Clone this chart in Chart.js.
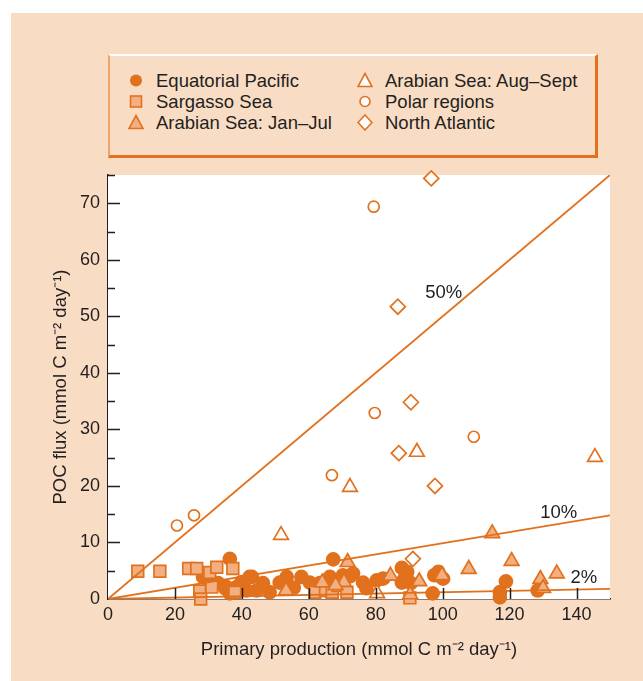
<!DOCTYPE html>
<html>
<head>
<meta charset="utf-8">
<script src="https://cdn.jsdelivr.net/npm/chart.js@4.4.1/dist/chart.umd.min.js"></script>
<style>
  html, body { margin: 0; padding: 0; background: #fff; }
  body { width: 643px; height: 681px; position: relative; overflow: hidden; font-family: 'Liberation Sans', Arial, sans-serif; }
  #bg { position: absolute; left: 11px; top: 13px; right: 0; bottom: 0; background: #F9DCC4; }
  #chart { position: absolute; left: 0; top: 0; }
  #legend {
    position: absolute; left: 108px; top: 54px; width: 490px; height: 104px; box-sizing: border-box;
    border-top: 2px solid #fff; border-left: 2px solid #F0A46C;
    border-right: 3px solid #E2711D; border-bottom: 3px solid #E2711D;
  }
  .item { position: absolute; height: 21px; line-height: 21px; font-size: 18.5px; color: #231F20; white-space: nowrap; }
  .item svg { position: absolute; left: 0; top: 2px; }
  .item span { position: absolute; left: 28px; top: 0; }
</style>
</head>
<body>
<div id="bg"></div>
<div id="legend"></div>
<canvas id="chart" width="643" height="681"></canvas>
<script>
const ORANGE = '#E2711D';
const LIGHT = '#F2B082';
const TEXT = '#231F20';

// series, [primary production, POC flux]
const eqPacific = [
  [36.4, 7.1], [28.4, 3.9], [67.3, 7.0], [87.8, 5.5], [89.4, 4.8], [98.7, 4.8], [100.1, 3.6],
  [97.5, 4.2], [97.0, 1.0], [118.9, 3.1], [117.1, 1.2], [117.1, 0.3], [128.4, 1.5],
  [42.3, 3.9], [32.9, 2.8], [39.9, 3.0], [46.3, 2.8], [48.3, 1.2], [51.3, 2.9], [53.4, 3.9],
  [57.8, 3.9], [60.3, 2.9], [63.3, 2.8], [66.3, 3.9], [70.2, 4.2], [73.2, 4.5], [76.2, 2.9],
  [77.2, 1.9], [80.3, 3.3], [82.2, 3.6], [87.8, 2.9], [90.5, 2.8], [35.0, 1.9], [38.4, 2.1],
  [41.4, 1.5], [44.4, 1.5], [36.4, 1.0], [62.5, 1.8], [66.3, 1.2], [43.0, 3.9], [35.5, 2.1],
  [55.5, 2.0], [72.3, 4.0], [65.3, 3.3], [88.5, 3.5], [30.5, 2.5], [40.5, 2.5]
];
const sargasso = [
  [8.9, 4.9], [15.5, 4.9], [24.1, 5.4], [26.5, 5.4], [30.4, 4.7], [32.5, 5.6], [37.3, 5.4],
  [27.4, 1.4], [27.7, 0.0], [31.0, 2.1], [37.9, 1.2], [61.8, 1.2], [65.0, 1.5], [67.0, 1.2],
  [68.7, 2.4], [71.4, 1.2], [90.2, 0.2]
];
const arabianJanJul = [
  [114.8, 11.6], [120.6, 6.7], [107.8, 5.3], [71.6, 6.5], [129.2, 3.5], [134.1, 4.5],
  [130.0, 1.9], [53.2, 1.5], [84.4, 4.1], [93.0, 3.1], [90.3, 0.8], [70.5, 3.0],
  [99.8, 4.2], [64.0, 2.9], [68.0, 2.4]
];
const arabianAugSep = [[92.3, 26.0], [72.3, 19.8], [145.5, 25.1], [51.7, 11.3], [80.4, 1.0]];
const polar = [[79.4, 69.4], [79.7, 32.9], [109.3, 28.7], [66.9, 21.9], [20.6, 13.0], [25.7, 14.8]];
const northAtlantic = [[96.6, 74.4], [86.6, 51.7], [90.5, 34.8], [86.9, 25.8], [97.7, 20.0], [91.1, 7.1]];

// export-efficiency reference lines (end points as drawn)
const line50 = [[0, 0], [150, 75]];
const line10 = [[0, 0], [150, 14.8]];
const line2 = [[0, 0], [150, 1.8]];
const lineLabels = [
  { text: '50%', x: 100.3, y: 54.2 },
  { text: '10%', x: 134.7, y: 15.2 },
  { text: '2%', x: 142.2, y: 3.7 }
];

const xTitle = 'Primary production (mmol C m\u207B\u00B2 day\u207B\u00B9)';
const yTitle = 'POC flux (mmol C m\u207B\u00B2 day\u207B\u00B9)';

const pts = arr => arr.map(([x, y]) => ({ x, y }));

function markerSet(label, data, style, radius, fill, order) {
  return {
    label, data: pts(data), pointStyle: style, pointRadius: radius,
    pointBackgroundColor: fill, pointBorderColor: ORANGE, pointBorderWidth: 1.7,
    showLine: false, clip: false, order
  };
}
function refLine(data) {
  return {
    data: pts(data), showLine: true, borderColor: ORANGE, borderWidth: 1.8,
    pointRadius: 0, fill: false, order: 0
  };
}

// white plot area + inward tick marks + percent labels
const decor = {
  id: 'decor',
  beforeDatasetsDraw(chart) {
    const { ctx, chartArea: a } = chart;
    ctx.save();
    ctx.fillStyle = '#fff';
    ctx.fillRect(a.left, a.top, a.right - a.left, a.bottom - a.top);
    ctx.restore();
  },
  afterDatasetsDraw(chart) {
    const { ctx, chartArea: a, scales: { x, y } } = chart;
    ctx.save();
    ctx.strokeStyle = TEXT;
    ctx.lineWidth = 1.5;
    ctx.beginPath();
    for (let v = 5; v <= 75; v += 5) {
      const py = Math.round(y.getPixelForValue(v)) + 0.5;
      ctx.moveTo(a.left, py);
      ctx.lineTo(a.left + (v % 10 === 0 ? 12 : 7), py);
    }
    for (let v = 20; v <= 140; v += 20) {
      const px = Math.round(x.getPixelForValue(v)) + 0.5;
      ctx.moveTo(px, a.bottom);
      ctx.lineTo(px, a.bottom - 11);
    }
    ctx.stroke();

    ctx.fillStyle = TEXT;
    ctx.font = '18.5px "Liberation Sans", Arial, sans-serif';
    ctx.textAlign = 'center';
    ctx.textBaseline = 'middle';
    lineLabels.forEach(l => ctx.fillText(l.text, x.getPixelForValue(l.x), y.getPixelForValue(l.y)));
    ctx.restore();
  }
};

const font = { family: '"Liberation Sans", Arial, sans-serif', size: 18 };

new Chart(document.getElementById('chart'), {
  type: 'scatter',
  data: {
    datasets: [
      refLine(line50), refLine(line10), refLine(line2),
      markerSet('North Atlantic', northAtlantic, 'rectRot', 7.5, '#fff', 1),
      markerSet('Polar regions', polar, 'circle', 5.5, '#fff', 2),
      markerSet('Arabian Sea: Aug\u2013Sept', arabianAugSep, 'triangle', 8.5, '#fff', 3),
      markerSet('Arabian Sea: Jan\u2013Jul', arabianJanJul, 'triangle', 8.5, LIGHT, 4),
      markerSet('Sargasso Sea', sargasso, 'rect', 8.3, LIGHT, 5),
      markerSet('Equatorial Pacific', eqPacific, 'circle', 6.5, ORANGE, 6)
    ]
  },
  options: {
    responsive: false,
    animation: false,
    layout: { padding: { top: 175, right: 33, left: 0, bottom: 0 } },
    plugins: { legend: { display: false }, tooltip: { enabled: false } },
    scales: {
      x: {
        type: 'linear', min: 0, max: 150,
        afterFit: s => { s.height = 82; },
        ticks: { stepSize: 20, includeBounds: false, color: TEXT, font, padding: 5, maxRotation: 0 },
        grid: { display: false, drawTicks: false },
        border: { color: TEXT, width: 1.5 },
        title: { display: true, text: xTitle, color: TEXT, font: { family: font.family, size: 18.5 }, padding: { top: 0, bottom: 20 } }
      },
      y: {
        type: 'linear', min: 0, max: 75,
        afterFit: s => { s.width = 108; },
        ticks: { stepSize: 10, includeBounds: false, color: TEXT, font, padding: 8 },
        grid: { display: false, drawTicks: false },
        border: { color: TEXT, width: 1.5 },
        title: { display: true, text: yTitle, color: TEXT, font: { family: font.family, size: 18.5 }, padding: { top: 50, bottom: 0 } }
      }
    }
  },
  plugins: [decor]
});

// legend box
const legendItems = [
  { label: 'Equatorial Pacific', sym: 'dot', col: 0, row: 0 },
  { label: 'Sargasso Sea', sym: 'square', col: 0, row: 1 },
  { label: 'Arabian Sea: Jan\u2013Jul', sym: 'triFill', col: 0, row: 2 },
  { label: 'Arabian Sea: Aug\u2013Sept', sym: 'triOpen', col: 1, row: 0 },
  { label: 'Polar regions', sym: 'ring', col: 1, row: 1 },
  { label: 'North Atlantic', sym: 'diamond', col: 1, row: 2 }
];
const SYM = {
  dot: `<circle cx="8" cy="8.5" r="6" fill="${ORANGE}"/>`,
  square: `<rect x="2.5" y="3" width="11" height="11" fill="${LIGHT}" stroke="${ORANGE}" stroke-width="1.6"/>`,
  triFill: `<polygon points="8,1.5 15,14.5 1,14.5" fill="${LIGHT}" stroke="${ORANGE}" stroke-width="1.6"/>`,
  triOpen: `<polygon points="8,1.5 15,14.5 1,14.5" fill="#fff" stroke="${ORANGE}" stroke-width="1.6"/>`,
  ring: `<circle cx="8" cy="8.5" r="5" fill="#fff" stroke="${ORANGE}" stroke-width="1.6"/>`,
  diamond: `<polygon points="8,1 15,8.5 8,16 1,8.5" fill="#fff" stroke="${ORANGE}" stroke-width="1.6"/>`
};
const legendEl = document.getElementById('legend');
legendItems.forEach(it => {
  const d = document.createElement('div');
  d.className = 'item';
  d.style.left = (it.col ? 247 : 18) + 'px';
  d.style.top = (14 + it.row * 21) + 'px';
  d.innerHTML = `<svg width="16" height="17">${SYM[it.sym]}</svg><span>${it.label}</span>`;
  legendEl.appendChild(d);
});
</script>
</body>
</html>
